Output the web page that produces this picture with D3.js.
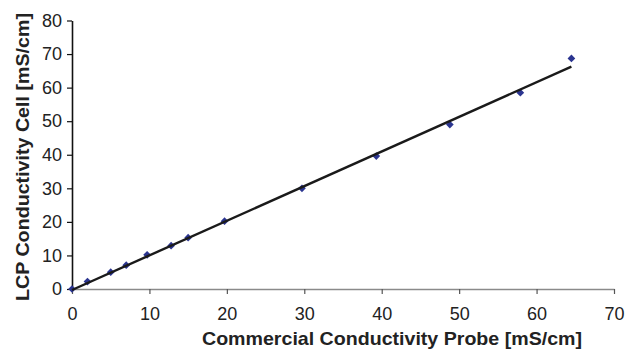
<!DOCTYPE html>
<html>
<head>
<meta charset="utf-8">
<script src="https://cdn.jsdelivr.net/npm/d3@7"></script>
<style>
  body { margin: 0; background: #fff; }
  svg { font-family: "Liberation Sans", Arial, sans-serif; }
</style>
</head>
<body>
<svg id="chart" width="628" height="349"></svg>
<script>
// valeurs
const probe = [0, 2, 5, 7, 9.7, 12.8, 15, 19.7, 29.7, 39.3, 48.8, 57.9, 64.5];
const cell  = [0, 2.2, 5, 7.1, 10.2, 12.9, 15.3, 20.2, 30, 39.6, 49, 58.5, 68.7];
const xTicks = [0, 10, 20, 30, 40, 50, 60, 70];
const yTicks = [0, 10, 20, 30, 40, 50, 60, 70, 80];
// droite de tendance
const fit = {slope: 1.032, intercept: -0.3, from: 0, to: 64.5};

let svg = d3.select("#chart");
let margin = {top: 20.5, right: 14, bottom: 60, left: 72};
let width = 628, height = 349;

let x = d3.scaleLinear().domain([0, 70]).range([margin.left, width - margin.right]);
let y = d3.scaleLinear().domain([0, 80]).range([height - margin.bottom, margin.top]);

// axe x (gris)
let gx = svg.append("g")
	.attr("transform", `translate(0,${y(0)})`)
	.call(d3.axisBottom(x).tickValues(xTicks).tickSize(5).tickPadding(13).tickSizeOuter(0));
gx.select(".domain").attr("stroke", "#8a8a8a").attr("stroke-width", 1.6);
gx.selectAll(".tick line").attr("stroke", "#555").attr("stroke-width", 1.2);
gx.selectAll(".tick text").attr("font-size", 18).attr("fill", "#222").attr("font-family", null);

// axe y (noir)
let gy = svg.append("g")
	.attr("transform", `translate(${x(0)},0)`)
	.call(d3.axisLeft(y).tickValues(yTicks).tickSize(5).tickPadding(5).tickSizeOuter(0));
gy.select(".domain").attr("stroke", "#111").attr("stroke-width", 1.6);
gy.selectAll(".tick line").attr("stroke", "#111").attr("stroke-width", 1.2);
gy.selectAll(".tick text").attr("font-size", 18).attr("fill", "#222").attr("font-family", null);

// points
let pts = probe.map((p, k) => ({x: p, y: cell[k]}));
svg.append("g")
	.selectAll("path")
	.data(pts)
	.join("path")
	.attr("d", d3.symbol(d3.symbolDiamond2, 38))
	.attr("transform", d => `translate(${x(d.x)},${y(d.y)})`)
	.attr("fill", "#2b3590");

// tendance
svg.append("line")
	.attr("x1", x(fit.from)).attr("y1", y(fit.slope * fit.from + fit.intercept))
	.attr("x2", x(fit.to)).attr("y2", y(fit.slope * fit.to + fit.intercept))
	.attr("stroke", "#1a1a1a")
	.attr("stroke-width", 2.4);

// titres des axes
svg.append("text")
	.attr("x", 392).attr("y", 345)
	.attr("text-anchor", "middle")
	.attr("font-size", 18.5).attr("font-weight", "bold").attr("fill", "#222")
	.attr("textLength", 380).attr("lengthAdjust", "spacingAndGlyphs")
	.text("Commercial Conductivity Probe [mS/cm]");
svg.append("text")
	.attr("transform", "translate(28.5,157) rotate(-90)")
	.attr("text-anchor", "middle")
	.attr("font-size", 19).attr("font-weight", "bold").attr("fill", "#222")
	.attr("textLength", 288).attr("lengthAdjust", "spacingAndGlyphs")
	.text("LCP Conductivity Cell [mS/cm]");
</script>
</body>
</html>
